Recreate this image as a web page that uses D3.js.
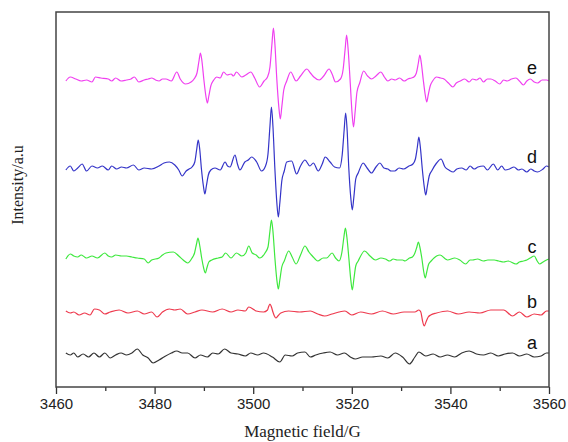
<!DOCTYPE html>
<html>
<head>
<meta charset="utf-8">
<script src="https://cdn.jsdelivr.net/npm/d3@7"></script>
<style>
  body { margin: 0; background: #fff; }
  svg { display: block; }
</style>
</head>
<body>
<div id="chart"></div>
<script>
// Set dimensions
const width = 568,
    height = 442;
const margin = { top: 12, right: 19, bottom: 55, left: 56 };

// Data: [field (G), deflection (a.u.)]
const traceA = [[3462.0,2],[3462.9,0],[3463.6,2],[3464.4,-2],[3465.5,1],[3466.6,-2],[3467.7,2],[3468.8,-2],[3469.9,2],[3471.0,-3],[3472.1,0],[3473.2,2],[3474.3,0],[3475.4,2],[3476.5,6],[3477.6,0],[3478.7,-3],[3479.7,-8],[3480.9,-5],[3481.9,-2],[3483.4,2],[3484.5,4],[3485.6,2],[3486.7,2],[3488.2,-3],[3489.3,0],[3490.7,-2],[3491.8,2],[3492.9,1],[3494.2,6],[3495.5,2],[3496.9,1],[3498.4,-1],[3499.5,2],[3500.9,0],[3502.1,2],[3503.9,-2],[3505.4,-7],[3506.5,0],[3507.9,-1],[3509.0,2],[3510.5,3],[3511.6,-2],[3512.7,0],[3514.2,2],[3515.6,3],[3517.1,0],[3518.5,2],[3519.7,-2],[3520.7,-4],[3522.2,-2],[3524.0,-2],[3525.9,-1],[3527.3,-3],[3528.8,2],[3530.3,-2],[3531.7,-9],[3532.8,-2],[3533.6,3],[3535.0,-1],[3536.5,1],[3537.9,-2],[3539.4,0],[3540.9,-2],[3542.3,2],[3543.8,4],[3545.3,1],[3546.7,0],[3548.2,2],[3549.7,-1],[3551.1,1],[3552.6,2],[3554.0,-1],[3555.5,1],[3557.0,-2],[3558.4,-1],[3559.5,2],[3560.0,2]];

const traceB = [[3462.0,1],[3462.9,-1],[3463.6,0],[3464.7,-3],[3465.8,-1],[3466.9,-3],[3467.8,3],[3468.8,2],[3469.9,-2],[3471.0,0],[3472.8,2],[3474.6,-1],[3476.5,1],[3477.9,-2],[3479.4,0],[3480.5,-5],[3481.6,0],[3483.0,3],[3484.1,2],[3485.2,3],[3486.7,-2],[3488.2,0],[3489.6,2],[3491.8,0],[3493.7,3],[3495.5,0],[3496.9,2],[3498.4,1],[3499.1,5],[3500.6,1],[3502.1,0],[3502.9,2],[3503.1,5],[3503.4,8],[3503.7,5],[3504.0,0],[3504.3,-4],[3504.6,-6],[3505.0,-4],[3505.6,-1],[3507.2,1],[3509.4,0],[3511.6,1],[3513.1,-2],[3514.5,-4],[3516.0,-2],[3517.4,0],[3518.6,1],[3520.0,-3],[3521.8,0],[3524.0,-2],[3526.2,1],[3528.4,-2],[3530.6,0],[3532.8,0],[3533.6,2],[3534.0,0],[3534.35,-9],[3534.7,-14],[3535.05,-10],[3535.5,-5],[3536.0,-3],[3537.2,-1],[3539.4,1],[3541.6,-2],[3543.8,0],[3546.0,-1],[3548.2,2],[3550.8,2],[3552.6,-4],[3554.0,0],[3555.5,-5],[3557.0,-2],[3558.4,-3],[3559.5,1],[3560.0,1]];

const traceC = [[3462.0,-1],[3462.9,4],[3463.6,2],[3464.4,1],[3465.1,3],[3465.8,1],[3466.2,0],[3467.3,2],[3468.4,0],[3469.9,5],[3470.6,2],[3471.3,1],[3472.1,3],[3473.3,2],[3474.3,2],[3475.4,1],[3476.5,0],[3477.9,-1],[3478.7,-5],[3479.4,-2],[3480.9,0],[3481.6,3],[3482.3,5],[3483.8,6],[3484.9,2],[3485.8,-2],[3486.7,-5],[3487.6,0],[3488.1,5],[3488.5,14],[3488.8,20],[3489.1,14],[3489.55,0],[3489.95,-10],[3490.3,-15],[3490.6,-10],[3491.0,-4],[3491.6,-2],[3492.9,0],[3493.7,1],[3494.4,5],[3495.5,0],[3496.6,5],[3497.7,2],[3498.5,5],[3499.1,12],[3499.8,5],[3500.6,3],[3501.3,0],[3502.4,5],[3503.0,11],[3503.4,27],[3503.7,38],[3504.0,27],[3504.4,0],[3504.8,-22],[3505.1,-31],[3505.4,-22],[3505.8,-9],[3506.3,-3],[3507.2,7],[3507.9,1],[3508.7,-6],[3509.6,3],[3510.5,12],[3511.3,6],[3512.0,2],[3513.1,-3],[3514.2,0],[3514.9,0],[3516.0,5],[3516.7,0],[3517.4,-3],[3518.0,6],[3518.4,21],[3518.7,30],[3519.0,21],[3519.4,0],[3519.8,-22],[3520.1,-32],[3520.4,-22],[3520.8,-8],[3521.3,-3],[3522.6,7],[3523.7,2],[3524.8,-2],[3525.9,0],[3526.8,-1],[3527.7,-3],[3528.4,-1],[3529.2,-2],[3530.3,-2],[3530.8,-3],[3531.7,0],[3532.3,1],[3532.8,5],[3533.2,11],[3533.5,16],[3533.8,11],[3534.2,0],[3534.6,-14],[3534.9,-20],[3535.2,-14],[3535.6,-6],[3536.1,-3],[3537.2,2],[3537.9,3],[3539.0,-1],[3539.4,-2],[3540.9,0],[3541.9,-2],[3543.1,-6],[3544.0,-2],[3544.5,-2],[3545.5,-1],[3546.7,-3],[3547.6,-2],[3548.9,-2],[3549.8,-3],[3550.8,-4],[3551.7,-3],[3553.3,-6],[3554.0,-4],[3554.8,-3],[3555.5,-2],[3556.2,0],[3557.0,2],[3557.6,-3],[3558.1,-6],[3558.8,-4],[3559.5,-2],[3560.0,-1]];

const traceD = [[3462.0,-1],[3462.9,3],[3463.6,-2],[3464.4,1],[3465.3,5],[3466.2,-2],[3467.3,3],[3468.4,1],[3469.4,3],[3470.6,-1],[3471.3,3],[3472.3,0],[3473.3,2],[3474.3,1],[3475.7,4],[3476.8,-1],[3477.9,1],[3479.4,0],[3480.9,3],[3481.9,6],[3483.0,7],[3484.1,4],[3484.9,-1],[3485.6,-7],[3486.4,-2],[3487.0,0],[3487.6,2],[3488.15,7],[3488.55,20],[3488.85,29],[3489.15,20],[3489.5,0],[3489.9,-17],[3490.2,-25],[3490.5,-17],[3490.9,-6],[3491.4,-1],[3492.25,1],[3493.3,-1],[3494.3,7],[3494.8,3],[3495.3,2],[3496.3,14],[3496.8,5],[3497.3,-1],[3498.3,7],[3499.0,9],[3499.7,12],[3500.7,7],[3501.7,-2],[3502.5,3],[3503.0,15],[3503.4,43],[3503.7,62],[3504.0,43],[3504.4,0],[3504.8,-34],[3505.1,-48],[3505.4,-34],[3505.8,-12],[3506.3,-2],[3506.8,7],[3507.8,8],[3508.8,-5],[3509.6,3],[3510.5,9],[3511.5,3],[3512.2,6],[3513.2,-2],[3514.0,5],[3514.6,12],[3515.6,7],[3516.5,2],[3517.5,1],[3518.05,14],[3518.45,39],[3518.75,56],[3519.05,39],[3519.4,0],[3519.8,-29],[3520.1,-41],[3520.4,-29],[3520.8,-10],[3521.3,-4],[3522.3,6],[3523.1,1],[3524.0,-4],[3524.9,2],[3525.7,6],[3526.5,1],[3527.3,0],[3528.0,-2],[3528.7,-2],[3529.6,1],[3530.5,0],[3531.6,3],[3532.4,5],[3532.9,10],[3533.3,22],[3533.6,32],[3533.9,22],[3534.3,0],[3534.7,-18],[3535.0,-26],[3535.3,-18],[3535.7,-7],[3536.2,-2],[3537.2,6],[3538.1,10],[3538.9,2],[3539.7,-1],[3540.6,-3],[3541.3,0],[3542.3,1],[3543.2,-1],[3544.0,3],[3544.8,0],[3545.6,2],[3546.7,3],[3547.5,-1],[3548.7,5],[3549.6,-1],[3550.4,3],[3551.1,-1],[3552.0,0],[3552.9,2],[3553.8,-1],[3554.5,0],[3555.5,-3],[3556.3,0],[3557.0,-2],[3557.7,-3],[3558.8,0],[3559.5,3],[3560.0,2]];

const traceE = [[3462.0,-1],[3462.9,3],[3464.0,1],[3465.1,-1],[3466.2,0],[3467.3,-2],[3468.0,3],[3469.1,2],[3470.6,1],[3471.3,-1],[3472.1,2],[3473.2,-1],[3474.3,0],[3475.2,1],[3475.9,3],[3476.8,-2],[3477.9,0],[3478.7,1],[3479.4,2],[3480.2,0],[3480.9,-1],[3481.6,1],[3482.3,1],[3483.4,-1],[3484.5,8],[3485.2,1],[3486.3,-4],[3487.4,-2],[3488.0,1],[3488.6,7],[3489.0,19],[3489.3,27],[3489.6,19],[3490.0,0],[3490.4,-16],[3490.7,-23],[3491.0,-16],[3491.4,-6],[3492.0,0],[3492.6,3],[3493.3,2],[3494.0,8],[3494.7,5],[3495.5,6],[3496.0,4],[3496.6,8],[3497.7,3],[3498.5,5],[3499.5,8],[3500.3,2],[3501.3,-7],[3502.2,-1],[3502.9,3],[3503.4,13],[3503.8,36],[3504.1,52],[3504.4,36],[3504.8,0],[3505.2,-27],[3505.5,-39],[3505.8,-27],[3506.2,-10],[3506.8,-1],[3507.6,8],[3508.7,-1],[3509.6,4],[3510.9,11],[3511.6,7],[3512.3,3],[3513.4,0],[3514.3,4],[3515.4,11],[3516.0,6],[3516.7,-2],[3517.7,1],[3518.25,11],[3518.65,31],[3518.95,45],[3519.25,31],[3519.65,0],[3520.05,-33],[3520.35,-47],[3520.65,-33],[3521.05,-12],[3521.6,-3],[3522.4,9],[3523.2,4],[3524.0,1],[3524.9,4],[3525.9,8],[3526.6,3],[3527.3,-1],[3528.1,1],[3528.8,0],[3529.7,2],[3530.6,-1],[3531.4,1],[3532.1,2],[3532.6,3],[3533.1,7],[3533.5,17],[3533.8,25],[3534.1,17],[3534.5,0],[3534.9,-15],[3535.2,-22],[3535.5,-15],[3535.9,-6],[3536.4,-1],[3537.2,3],[3538.0,2],[3538.7,1],[3539.6,-3],[3540.5,-7],[3541.2,-3],[3542.0,-1],[3542.9,1],[3543.8,-2],[3544.5,1],[3545.3,0],[3546.0,2],[3546.7,-2],[3547.5,1],[3548.2,1],[3549.1,-1],[3550.0,-4],[3550.8,0],[3551.5,-1],[3552.4,1],[3553.3,2],[3554.0,-1],[3554.8,-5],[3555.5,-1],[3556.2,1],[3557.0,-2],[3557.7,-3],[3558.6,0],[3559.5,0],[3560.0,-1]];

const seriesNames = ["a", "b", "c", "d", "e"];
const seriesOffsets = [32, 75, 129, 218, 307];
const labelLevels = [44, 85, 140, 230, 319];
const seriesColors = ["#333333", "#ee3a4e", "#3ee83e", "#3434c8", "#f040f0"];
const xTicks = [3460, 3480, 3500, 3520, 3540, 3560];
const xMinorTicks = [3470, 3490, 3510, 3530, 3550];

const traces = [traceA, traceB, traceC, traceD, traceE];

// Append SVG
const svg = d3
    .select("#chart")
    .append("svg")
    .attr("width", width)
    .attr("height", height);

const x = d3
    .scaleLinear()
    .domain([3460, 3560])
    .range([margin.left, width - margin.right]);

const y = d3
    .scaleLinear()
    .domain([0, 375])
    .range([height - margin.bottom, margin.top]);

// Axes (bottom only, ticks outward)
const xAxis = svg
    .append("g")
    .attr("transform", `translate(0,${height - margin.bottom})`)
    .call(d3.axisBottom(x).tickValues(xTicks).tickSize(7).tickPadding(4).tickFormat(d3.format("d")));
xAxis.select(".domain").remove();
xAxis.selectAll("line").attr("stroke", "#333").attr("stroke-width", 1.3);
xAxis
    .selectAll("text")
    .attr("fill", "#222")
    .style("font-family", "'Liberation Sans', Arial, sans-serif")
    .style("font-size", "15px");

const xMinor = svg
    .append("g")
    .attr("transform", `translate(0,${height - margin.bottom})`)
    .call(d3.axisBottom(x).tickValues(xMinorTicks).tickSize(4).tickFormat(""));
xMinor.select(".domain").remove();
xMinor.selectAll("line").attr("stroke", "#333").attr("stroke-width", 1.3);

// Traces
const line = d3
    .line()
    .x((d) => x(d[0]))
    .y((d) => d[1])
    .curve(d3.curveMonotoneX);

traces.forEach((t, i) => {
    svg.append("path")
        .datum(t.map((d) => [d[0], y(d[1] + seriesOffsets[i])]))
        .attr("fill", "none")
        .attr("stroke", seriesColors[i])
        .attr("stroke-width", 1.2)
        .attr("stroke-linejoin", "round")
        .attr("d", line);

    svg.append("text")
        .attr("x", 532)
        .attr("y", y(labelLevels[i]))
        .attr("dy", "0.35em")
        .attr("text-anchor", "middle")
        .style("font-family", "'Liberation Sans', Arial, sans-serif")
        .style("font-size", "18px")
        .attr("fill", "#111")
        .text(seriesNames[i]);
});

// Frame
svg.append("rect")
    .attr("x", margin.left)
    .attr("y", margin.top)
    .attr("width", width - margin.left - margin.right)
    .attr("height", height - margin.top - margin.bottom)
    .attr("fill", "none")
    .attr("stroke", "#444")
    .attr("stroke-width", 1.5);

// Axis titles
svg.append("text")
    .attr("x", (margin.left + width - margin.right) / 2)
    .attr("y", 437)
    .attr("text-anchor", "middle")
    .style("font-family", "'Liberation Serif', 'Times New Roman', serif")
    .style("font-size", "17px")
    .attr("fill", "#222")
    .text("Magnetic field/G");

svg.append("text")
    .attr("transform", "translate(22.5,185) rotate(-90)")
    .attr("text-anchor", "middle")
    .style("font-family", "'Liberation Serif', 'Times New Roman', serif")
    .style("font-size", "16px")
    .attr("fill", "#222")
    .text("Intensity/a.u");
</script>
</body>
</html>
